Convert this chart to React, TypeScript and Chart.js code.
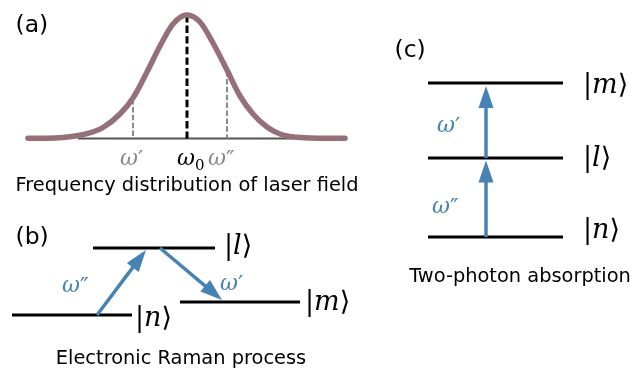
import React, { useEffect, useRef } from "react";
import { Chart, registerables } from "chart.js";

Chart.register(...registerables);

const W = 642;
const H = 368;
const SANS = '"DejaVu Sans", "Noto Sans", sans-serif';
const SERIF = '"DejaVu Serif", "Liberation Serif", serif';
const BLUE = "#4682b4";
const MAUVE = "#957079";
const GRAY = "#8a8a8a";

// (a) frequency distribution of the laser field (figure units, y downward)
const curveX = [28, 55, 70, 87, 103, 120, 133, 147, 160, 173, 187, 200, 213, 227, 240, 253, 267, 280, 297, 320, 345];
const curveY = [138.3, 138.0, 136.8, 133.7, 127.5, 114, 98, 72, 46, 24, 15, 22, 43, 70, 96, 114, 127, 134, 137.3, 138.2, 138.3];
const axisAX = [78, 293];
const axisAY = 138.5;
const markX = [133, 187, 227];
const markTop = [99, 15, 71];
const markColors = [GRAY, "#000000", GRAY];
const markWidths = [2, 3, 2];
const markDash = [[5.5, 2.4], [7.4, 3.2], [5.5, 2.4]];

// (b) electronic Raman process: levels n, l, m
const levelsBX0 = [12, 93, 180];
const levelsBX1 = [132, 215, 300];
const levelsBY = [315, 248, 302];

// (c) two-photon absorption: levels n, l, m
const levelsCX0 = 428;
const levelsCX1 = 563;
const levelsCY = [237, 158, 83];

const ketNames = ["n", "l", "m"];
const ketBX = [135, 224, 305];
const ketBY = [319.5, 247.5, 303.5];
const ketCX = 583;
const ketCY = [231.5, 159, 86];

// arrows (start -> tip)
const arrowX0 = [97, 160, 486, 486];
const arrowY0 = [315, 248, 237, 158];
const arrowX1 = [146, 222, 486, 486];
const arrowY1 = [250, 300, 160.5, 86];
const headLen = 22;
const headWidth = 15;

// text
const panelTags = ["(a)", "(b)", "(c)"];
const tagX = [15.5, 15.5, 394.5];
const tagY = [32, 244, 57];
const captions = ["Frequency distribution of laser field", "Electronic Raman process", "Two-photon absorption"];
const captionX = [187, 181, 520];
const captionY = [191, 364, 282];

const omegaPrimes = ["\u2032", "", "\u2033", "\u2033", "\u2032", "\u2032", "\u2033"];
const omegaSubs = ["", "0", "", "", "", "", ""];
const omegaX = [120, 177, 208, 62, 220, 437, 432];
const omegaY = [165, 165, 165, 291.5, 290, 132, 213];
const omegaColors = [GRAY, "#000000", GRAY, BLUE, BLUE, BLUE, BLUE];

function seg(x0: number, y0: number, x1: number, y1: number) {
  return [{ x: x0, y: y0 }, { x: x1, y: y1 }];
}

function lineSet(data: any[], color: string, width: number, order: number, extra: any = {}) {
  return {
    data,
    showLine: true,
    borderColor: color,
    backgroundColor: color,
    borderWidth: width,
    pointRadius: 0,
    pointHoverRadius: 0,
    fill: false,
    clip: false,
    order,
    ...extra,
  };
}

function arrowGeom(i: number) {
  const dx = arrowX1[i] - arrowX0[i];
  const dy = arrowY1[i] - arrowY0[i];
  const len = Math.hypot(dx, dy);
  return { ux: dx / len, uy: dy / len };
}

const diagramPlugin = {
  id: "diagram",
  afterDatasetsDraw(chart: any) {
    const { ctx, scales } = chart;
    const sx = scales.x;
    const sy = scales.y;
    ctx.save();
    // arrowheads
    for (let i = 0; i < arrowX0.length; i++) {
      const px0 = sx.getPixelForValue(arrowX0[i]);
      const py0 = sy.getPixelForValue(arrowY0[i]);
      const px1 = sx.getPixelForValue(arrowX1[i]);
      const py1 = sy.getPixelForValue(arrowY1[i]);
      const len = Math.hypot(px1 - px0, py1 - py0);
      const ux = (px1 - px0) / len;
      const uy = (py1 - py0) / len;
      const bx = px1 - ux * headLen;
      const by = py1 - uy * headLen;
      const nx = -uy;
      const ny = ux;
      ctx.beginPath();
      ctx.moveTo(px1, py1);
      ctx.lineTo(bx + nx * headWidth / 2, by + ny * headWidth / 2);
      ctx.lineTo(bx - nx * headWidth / 2, by - ny * headWidth / 2);
      ctx.closePath();
      ctx.fillStyle = BLUE;
      ctx.fill();
    }

    ctx.textBaseline = "alphabetic";
    // panel tags
    ctx.fillStyle = "#000";
    ctx.font = `23.5px ${SANS}`;
    ctx.textAlign = "left";
    panelTags.forEach((t, i) => ctx.fillText(t, sx.getPixelForValue(tagX[i]), sy.getPixelForValue(tagY[i])));
    // captions
    ctx.font = `19.4px ${SANS}`;
    ctx.textAlign = "center";
    captions.forEach((t, i) => ctx.fillText(t, sx.getPixelForValue(captionX[i]), sy.getPixelForValue(captionY[i])));

    // omega labels
    ctx.textAlign = "left";
    omegaX.forEach((ox, i) => {
      let x = sx.getPixelForValue(ox);
      const y = sy.getPixelForValue(omegaY[i]);
      ctx.fillStyle = omegaColors[i];
      ctx.font = `italic 22px ${SERIF}`;
      ctx.fillText("\u03c9", x, y);
      x += ctx.measureText("\u03c9").width;
      if (omegaSubs[i]) {
        ctx.font = `15px ${SERIF}`;
        ctx.fillText(omegaSubs[i], x, y + 5);
      }
      if (omegaPrimes[i]) {
        ctx.font = `23px ${SANS}`;
        ctx.fillText(omegaPrimes[i], x, y + 2);
      }
    });

    // kets
    const drawKet = (name: string, xl: number, yc: number, size: number) => {
      let x = sx.getPixelForValue(xl);
      const y = sy.getPixelForValue(yc) + 0.25 * size;
      ctx.fillStyle = "#000";
      ctx.font = `${size}px ${SERIF}`;
      ctx.fillText("|", x, y);
      x += ctx.measureText("|").width;
      ctx.font = `italic ${size}px ${SERIF}`;
      ctx.fillText(name, x, y);
      x += ctx.measureText(name).width;
      ctx.font = `${size}px ${SANS}`;
      ctx.fillText("\u27e9", x, y);
    };
    ketNames.forEach((n, i) => {
      drawKet(n, ketBX[i], ketBY[i], 27);
      drawKet(n, ketCX, ketCY[i], 27);
    });
    ctx.restore();
  },
};

export default function App() {
  const ref = useRef<HTMLCanvasElement | null>(null);

  useEffect(() => {
    const canvas = ref.current;
    if (!canvas) return;
    const datasets: any[] = [];

    // axis baseline (a)
    datasets.push(lineSet(seg(axisAX[0], axisAY, axisAX[1], axisAY), "#555555", 2, 3));
    // dashed frequency marks
    markX.forEach((x, i) => {
      datasets.push(lineSet(seg(x, markTop[i], x, axisAY), markColors[i], markWidths[i], 2, { borderDash: markDash[i] }));
    });
    // gaussian curve
    datasets.push(
      lineSet(
        curveX.map((x, i) => ({ x, y: curveY[i] })),
        MAUVE,
        5.5,
        0,
        { cubicInterpolationMode: "monotone", borderCapStyle: "round", borderJoinStyle: "round" }
      )
    );
    // levels (b)
    levelsBY.forEach((y, i) => datasets.push(lineSet(seg(levelsBX0[i], y, levelsBX1[i], y), "#000000", 3, 2)));
    // levels (c)
    levelsCY.forEach((y) => datasets.push(lineSet(seg(levelsCX0, y, levelsCX1, y), "#000000", 3, 2)));
    // arrow shafts (end inside the head)
    arrowX0.forEach((x0, i) => {
      const { ux, uy } = arrowGeom(i);
      const ex = arrowX1[i] - ux * (headLen - 3);
      const ey = arrowY1[i] - uy * (headLen - 3);
      datasets.push(lineSet(seg(x0, arrowY0[i], ex, ey), BLUE, 3.5, 1));
    });

    const chart = new Chart(canvas, {
      type: "scatter",
      data: { datasets },
      options: {
        animation: false,
        responsive: false,
        devicePixelRatio: 1,
        events: [],
        layout: { padding: 0 },
        scales: {
          x: { type: "linear", min: 0, max: W, display: false },
          y: { type: "linear", min: 0, max: H, reverse: true, display: false },
        },
        plugins: { legend: { display: false }, tooltip: { enabled: false } },
      },
      plugins: [diagramPlugin],
    } as any);
    return () => chart.destroy();
  }, []);

  return (
    <div style={{ position: "fixed", left: 0, top: 0, width: W, height: H, background: "#fff" }}>
      <canvas ref={ref} width={W} height={H} style={{ display: "block" }} />
    </div>
  );
}
